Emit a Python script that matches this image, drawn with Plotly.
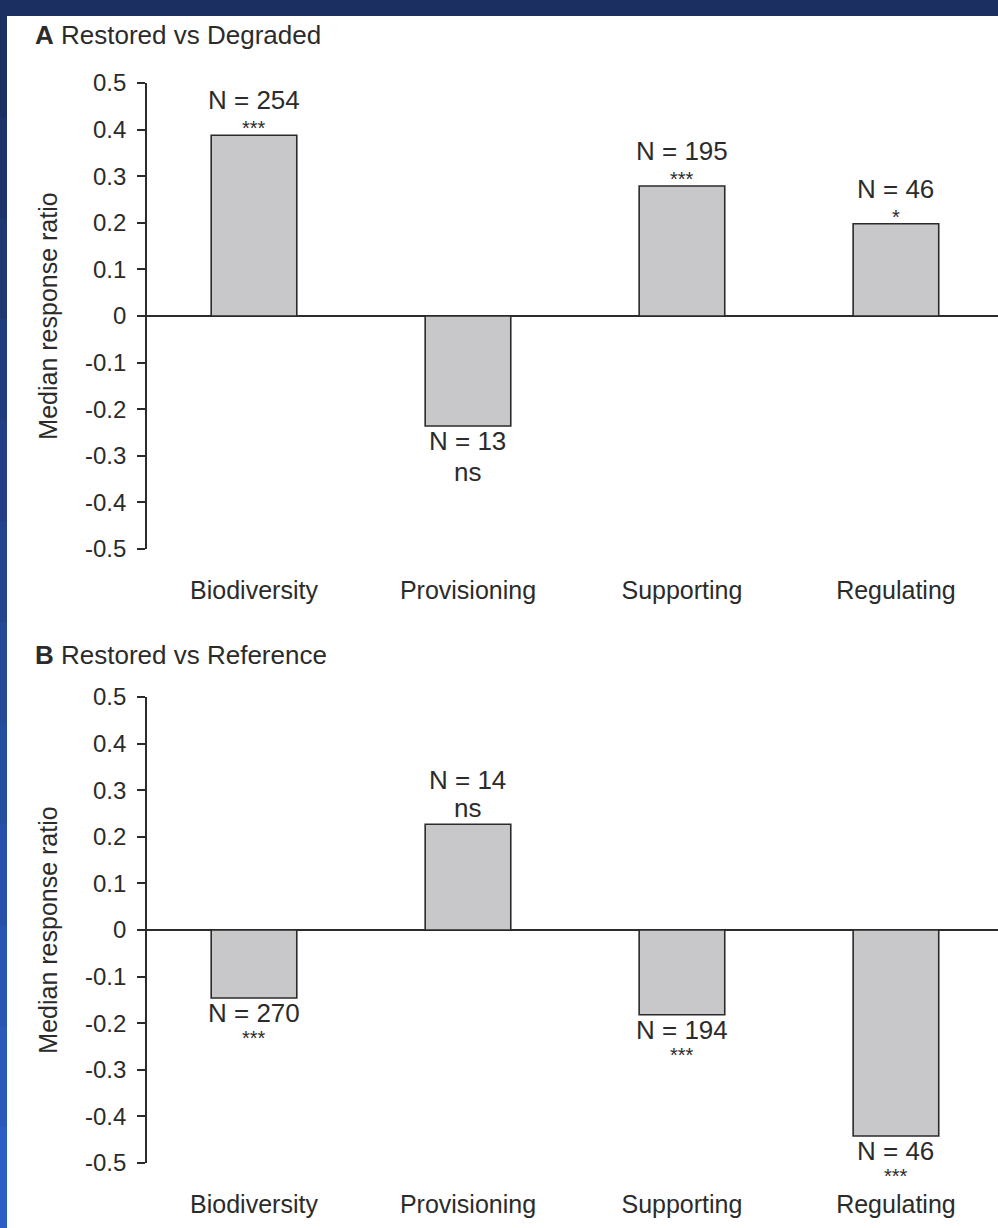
import plotly.graph_objects as go
from plotly.subplots import make_subplots

categories = ["Biodiversity", "Provisioning", "Supporting", "Regulating"]
values_a = [0.388, -0.236, 0.279, 0.198]
values_b = [-0.146, 0.227, -0.182, -0.442]
n_a = [254, 13, 195, 46]
n_b = [270, 14, 194, 46]
sig_a = ["***", "ns", "***", "*"]
sig_b = ["***", "ns", "***", "***"]
yticks = [0.5, 0.4, 0.3, 0.2, 0.1, 0, -0.1, -0.2, -0.3, -0.4, -0.5]
ytick_text = ["0.5", "0.4", "0.3", "0.2", "0.1", "0", "-0.1", "-0.2", "-0.3", "-0.4", "-0.5"]

W, H = 998, 1228
ML, MR, MT, MB = 147, 0, 83, 65
PW, PH = W - ML - MR, H - MT - MB
FONT = "Liberation Sans, Arial, sans-serif"
INK = "#2b2b2b"

fig = make_subplots(rows=2, cols=1, vertical_spacing=(697 - 549) / PH)

for row, vals in ((1, values_a), (2, values_b)):
    fig.add_trace(go.Bar(
        x=categories, y=vals, width=0.4,
        marker=dict(color="#c8c8ca", line=dict(color=INK, width=1.6)),
        showlegend=False, hoverinfo="skip"), row=row, col=1)

def px2x(px):
    return (px - ML) / PW

def px2y(py):
    return (H - MB - py) / PH

annots = []
for row, vals, ns, sigs in ((1, values_a, n_a, sig_a), (2, values_b, n_b, sig_b)):
    xr = "x" if row == 1 else "x2"
    yr = "y" if row == 1 else "y2"
    for c, v, n, s in zip(categories, vals, ns, sigs):
        stars = s != "ns"
        if v >= 0:
            n_shift = 35 if stars else 44
            s_shift = 7 if stars else 16
        else:
            n_shift = -15
            s_shift = -40 if stars else -46
        annots.append(dict(x=c, y=v, xref=xr, yref=yr, text=f"N = {n}", showarrow=False,
                           yanchor="middle", yshift=n_shift,
                           font=dict(size=26, color=INK, family=FONT)))
        annots.append(dict(x=c, y=v, xref=xr, yref=yr, text=s, showarrow=False,
                           yanchor="middle", yshift=s_shift,
                           font=dict(size=(20 if stars else 26), color=INK, family=FONT)))

annots.append(dict(x=px2x(33), y=px2y(35), xref="paper", yref="paper", xanchor="left", yanchor="middle",
                   text="<b>A</b> Restored vs Degraded", showarrow=False,
                   font=dict(size=26, color=INK, family=FONT)))
annots.append(dict(x=px2x(33), y=px2y(655), xref="paper", yref="paper", xanchor="left", yanchor="middle",
                   text="<b>B</b> Restored vs Reference", showarrow=False,
                   font=dict(size=26, color=INK, family=FONT)))

shapes = []
# navy top strip
shapes.append(dict(type="rect", xref="paper", yref="paper", x0=px2x(0), x1=px2x(W), y0=px2y(16), y1=px2y(0),
                   fillcolor="#1b3060", line=dict(width=0), layer="above"))
# left strip gradient
nb = 12
c0 = (0x1b, 0x30, 0x60)
c1 = (0x2c, 0x5e, 0xc4)
for i in range(nb):
    t = i / (nb - 1)
    col = "rgb(%d,%d,%d)" % tuple(int(a + (b - a) * t) for a, b in zip(c0, c1))
    y0p = 16 + (H - 16) * i / nb
    y1p = 16 + (H - 16) * (i + 1) / nb
    shapes.append(dict(type="rect", xref="paper", yref="paper", x0=px2x(0), x1=px2x(7),
                       y0=px2y(y1p), y1=px2y(y0p), fillcolor=col, line=dict(width=0), layer="above"))

fig.update_layout(
    width=W, height=H, margin=dict(l=ML, r=MR, t=MT, b=MB),
    paper_bgcolor="white", plot_bgcolor="white",
    annotations=annots, shapes=shapes, bargap=0.6,
    font=dict(family=FONT, color=INK),
)

for row in (1, 2):
    fig.update_xaxes(row=row, col=1, range=[-0.5, 3.477], showline=False, ticks="", showgrid=False,
                     zeroline=False, tickfont=dict(size=25, color=INK, family=FONT), ticklabelstandoff=24,
                     automargin=False)
    fig.update_yaxes(row=row, col=1, range=[-0.5, 0.5], tickvals=yticks, ticktext=ytick_text,
                     showline=True, linecolor=INK, linewidth=1.6, ticks="outside", ticklen=8,
                     tickwidth=1.6, tickcolor=INK, showgrid=False,
                     zeroline=True, zerolinecolor=INK, zerolinewidth=2,
                     tickfont=dict(size=24, color=INK, family=FONT), ticklabelstandoff=6,
                     automargin=False,
                     title=dict(text="Median response ratio", font=dict(size=25, color=INK, family=FONT),
                                standoff=20))

fig.update_traces(cliponaxis=False)

fig.write_html("out.html", config={"displayModeBar": False},
               post_script="document.body.style.margin='0';document.body.style.overflow='hidden';")
